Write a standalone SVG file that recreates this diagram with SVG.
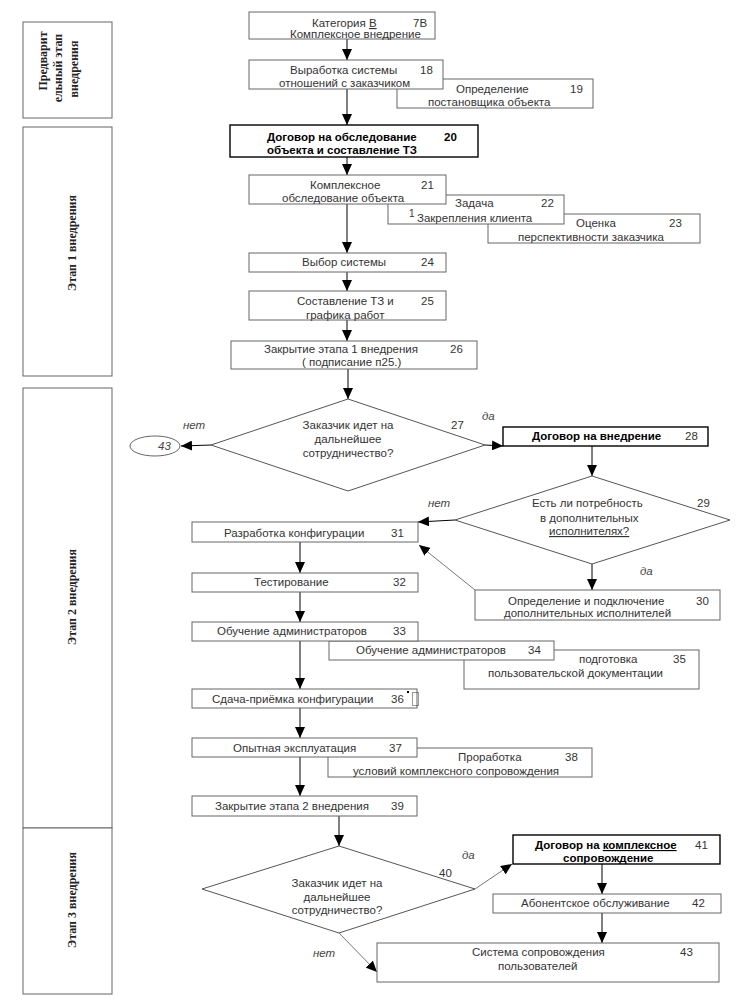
<svg xmlns="http://www.w3.org/2000/svg" width="750" height="1000" viewBox="0 0 750 1000">
<defs>
<marker id="ah" markerUnits="userSpaceOnUse" markerWidth="11" markerHeight="10" refX="11" refY="5" orient="auto">
<path d="M0,0 L11,5 L0,10 z" fill="#000"/>
</marker>
<style>
.bx{fill:#fff;stroke:#666;stroke-width:1}
.bb{fill:#fff;stroke:#000;stroke-width:1.4}
.dm{fill:#fff;stroke:#555;stroke-width:1}
.t{font-family:"Liberation Sans",Arial,sans-serif;font-size:11.5px;fill:#333}
.tb{font-family:"Liberation Sans",Arial,sans-serif;font-size:11.5px;font-weight:bold;fill:#000}
.ti{font-family:"Liberation Sans",Arial,sans-serif;font-size:11.5px;font-style:italic;fill:#444}
.side{fill:#fff;stroke:#666;stroke-width:1}
.st{font-family:"Liberation Serif","Times New Roman",serif;font-size:12px;font-weight:bold;fill:#222}
.c{fill:none;stroke:#000;stroke-width:1;marker-end:url(#ah)}
.cg{fill:none;stroke:#777;stroke-width:1;marker-end:url(#ah)}
</style>
</defs>
<rect width="750" height="1000" fill="#fff"/>

<g id="stage0">
<rect class="side" x="23" y="22" width="89" height="96"/>
<text class="st" text-anchor="middle" transform="translate(47,61) rotate(-90)">Предварит</text>
<text class="st" text-anchor="middle" transform="translate(62,68) rotate(-90)">ельный этап</text>
<text class="st" text-anchor="middle" transform="translate(78,69) rotate(-90)">внедрения</text>
</g>
<g id="stage1">
<rect class="side" x="23" y="127" width="89" height="249"/>
<text class="st" text-anchor="middle" transform="translate(76,243) rotate(-90)">Этап 1 внедрения</text>
</g>
<g id="stage2">
<rect class="side" x="23" y="388" width="89" height="440"/>
<text class="st" text-anchor="middle" transform="translate(76,597) rotate(-90)">Этап 2 внедрения</text>
</g>
<g id="stage3">
<rect class="side" x="23" y="828" width="89" height="166"/>
<text class="st" text-anchor="middle" transform="translate(76,900) rotate(-90)">Этап 3 внедрения</text>
</g>

<g id="connectors">
<path class="c" d="M347,39 V60"/>
<path class="c" d="M347,89 V125"/>
<path class="c" d="M347,157 V175"/>
<path class="c" d="M347,204 V253"/>
<path class="c" d="M347,272 V291"/>
<path class="c" d="M347,320 V341"/>
<path class="c" d="M348,369 V399"/>
<path class="c" d="M211,445 L181,446"/>
<path class="c" d="M485,445 L503,446"/>
<path class="c" d="M592,446 V476"/>
<path class="c" d="M455,520 L418,522"/>
<path class="c" d="M592,564 V590"/>
<path class="cg" d="M475,590 L419,545"/>
<path class="c" d="M300,542 V573"/>
<path class="c" d="M300,592 V622"/>
<path class="c" d="M300,641 V689"/>
<path class="c" d="M300,708 V738"/>
<path class="c" d="M300,757 V796"/>
<path class="c" d="M339,816 V846"/>
<path class="cg" d="M475,889 L512,864"/>
<path class="cg" d="M339,933 L377,972"/>
<path class="c" d="M602,864 V894"/>
<path class="c" d="M602,913 V943"/>
</g>

<g id="n7b">
<rect class="bx" x="249" y="12" width="186" height="27"/>
<text class="t" x="312" y="27">Категория <tspan text-decoration="underline">В</tspan></text>
<text class="t" x="413" y="27">7В</text>
<text class="t" x="290" y="38">Комплексное внедрение</text>
</g>
<g id="n19">
<rect class="bx" x="397" y="79" width="196" height="29"/>
<text class="t" x="456" y="93">Определение</text>
<text class="t" x="570" y="93">19</text>
<text class="t" x="428" y="106">постановщика объекта</text>
</g>
<g id="n18">
<rect class="bx" x="249" y="60" width="194" height="29"/>
<text class="t" x="290" y="74">Выработка системы</text>
<text class="t" x="420" y="74">18</text>
<text class="t" x="279" y="87">отношений с заказчиком</text>
</g>
<g id="n20">
<rect class="bb" x="230" y="125" width="248" height="32"/>
<text class="tb" x="267" y="141">Договор на обследование</text>
<text class="tb" x="444" y="141">20</text>
<text class="tb" x="267" y="154">объекта и составление ТЗ</text>
</g>
<g id="n23">
<rect class="bx" x="488" y="214" width="212" height="29"/>
<text class="t" x="576" y="227">Оценка</text>
<text class="t" x="669" y="227">23</text>
<text class="t" x="518" y="241">перспективности заказчика</text>
</g>
<g id="n22">
<rect class="bx" x="388" y="195" width="176" height="29"/>
<text class="t" x="455" y="207">Задача</text>
<text class="t" x="541" y="207">22</text>
<text class="t" x="417" y="222">Закрепления клиента</text>
</g>
<g id="n21">
<rect class="bx" x="249" y="175" width="197" height="29"/>
<text class="t" x="310" y="189">Комплексное</text>
<text class="t" x="421" y="189">21</text>
<text class="t" x="282" y="202">обследование объекта</text>
<text class="t" x="409" y="217" style="font-size:10px">1</text>
</g>
<g id="n24">
<rect class="bx" x="249" y="253" width="197" height="19"/>
<text class="t" x="302" y="266">Выбор системы</text>
<text class="t" x="421" y="266">24</text>
</g>
<g id="n25">
<rect class="bx" x="249" y="291" width="197" height="29"/>
<text class="t" x="297" y="305">Составление ТЗ и</text>
<text class="t" x="421" y="305">25</text>
<text class="t" x="306" y="319">графика работ</text>
</g>
<g id="n26">
<rect class="bx" x="231" y="341" width="246" height="28"/>
<text class="t" x="264" y="353">Закрытие этапа 1 внедрения</text>
<text class="t" x="450" y="353">26</text>
<text class="t" x="302" y="366">( подписание п25.)</text>
</g>
<g id="n27">
<polygon class="dm" points="348,399 485,445 348,491 211,445"/>
<text class="t" x="348" y="429" text-anchor="middle">Заказчик идет на</text>
<text class="t" x="348" y="443" text-anchor="middle">дальнейшее</text>
<text class="t" x="348" y="457" text-anchor="middle">сотрудничество?</text>
<text class="t" x="451" y="429">27</text>
<text class="ti" x="183" y="429">нет</text>
<text class="ti" x="482" y="420">да</text>
</g>
<g id="n43ref">
<ellipse cx="155" cy="446" rx="25" ry="10" fill="#fff" stroke="#666"/>
<text class="ti" x="158" y="450">43</text>
</g>
<g id="n28">
<rect class="bb" x="503" y="427" width="205" height="19"/>
<text class="tb" x="532" y="440">Договор на внедрение</text>
<text class="t" x="685" y="440">28</text>
</g>
<g id="n29">
<polygon class="dm" points="592,476 730,520 592,564 455,520"/>
<text class="t" x="532" y="507">Есть ли потребность</text>
<text class="t" x="540" y="522">в дополнительных</text>
<text class="t" x="549" y="535" text-decoration="underline">исполнителях?</text>
<text class="t" x="697" y="507">29</text>
<text class="ti" x="428" y="507">нет</text>
<text class="ti" x="640" y="575">да</text>
</g>
<g id="n30">
<rect class="bx" x="475" y="590" width="245" height="30"/>
<text class="t" x="508" y="605">Определение и подключение</text>
<text class="t" x="696" y="605">30</text>
<text class="t" x="504" y="617">дополнительных исполнителей</text>
</g>
<g id="n31">
<rect class="bx" x="192" y="522" width="226" height="20"/>
<text class="t" x="224" y="537">Разработка конфигурации</text>
<text class="t" x="391" y="537">31</text>
</g>
<g id="n32">
<rect class="bx" x="192" y="573" width="226" height="19"/>
<text class="t" x="254" y="586">Тестирование</text>
<text class="t" x="393" y="586">32</text>
</g>
<g id="n35">
<rect class="bx" x="464" y="650" width="235" height="39"/>
<text class="t" x="579" y="663">подготовка</text>
<text class="t" x="673" y="663">35</text>
<text class="t" x="488" y="677">пользовательской документации</text>
</g>
<g id="n34">
<rect class="bx" x="329" y="641" width="225" height="19"/>
<text class="t" x="356" y="654">Обучение администраторов</text>
<text class="t" x="528" y="654">34</text>
</g>
<g id="n33">
<rect class="bx" x="192" y="622" width="226" height="19"/>
<text class="t" x="217" y="635">Обучение администраторов</text>
<text class="t" x="393" y="635">33</text>
</g>
<g id="n36">
<rect class="bx" x="192" y="689" width="225" height="19"/>
<text class="t" x="212" y="703">Сдача-приёмка конфигурации</text>
<text class="t" x="391" y="703">36</text>
<rect x="407" y="691" width="2" height="2" fill="#000"/>
<rect x="412.5" y="692.5" width="6" height="13" fill="none" stroke="#000" stroke-width="0.8" stroke-dasharray="1,1"/>
</g>
<g id="n38">
<rect class="bx" x="328" y="748" width="264" height="29"/>
<text class="t" x="458" y="761">Проработка</text>
<text class="t" x="565" y="761">38</text>
<text class="t" x="353" y="775">условий комплексного сопровождения</text>
</g>
<g id="n37">
<rect class="bx" x="192" y="738" width="225" height="19"/>
<text class="t" x="233" y="752">Опытная эксплуатация</text>
<text class="t" x="389" y="752">37</text>
</g>
<g id="n39">
<rect class="bx" x="192" y="796" width="225" height="20"/>
<text class="t" x="215" y="810">Закрытие этапа 2 внедрения</text>
<text class="t" x="391" y="810">39</text>
</g>
<g id="n40">
<polygon class="dm" points="339,846 475,889 339,933 202,889"/>
<text class="t" x="337" y="887" text-anchor="middle">Заказчик идет на</text>
<text class="t" x="337" y="901" text-anchor="middle">дальнейшее</text>
<text class="t" x="337" y="914" text-anchor="middle">сотрудничество?</text>
<text class="t" x="439" y="877">40</text>
<text class="ti" x="462" y="859">да</text>
<text class="ti" x="313" y="957">нет</text>
</g>
<g id="n41">
<rect class="bb" x="513" y="835" width="207" height="29"/>
<text class="tb" x="535" y="849">Договор на <tspan text-decoration="underline">комплексное</tspan></text>
<text class="t" x="695" y="849">41</text>
<text class="tb" x="563" y="862">сопровождение</text>
</g>
<g id="n42">
<rect class="bx" x="493" y="894" width="228" height="19"/>
<text class="t" x="521" y="907">Абонентское обслуживание</text>
<text class="t" x="692" y="907">42</text>
</g>
<g id="n43">
<rect class="bx" x="377" y="943" width="342" height="39"/>
<text class="t" x="472" y="956">Система сопровождения</text>
<text class="t" x="680" y="956">43</text>
<text class="t" x="498" y="970">пользователей</text>
</g>
</svg>
